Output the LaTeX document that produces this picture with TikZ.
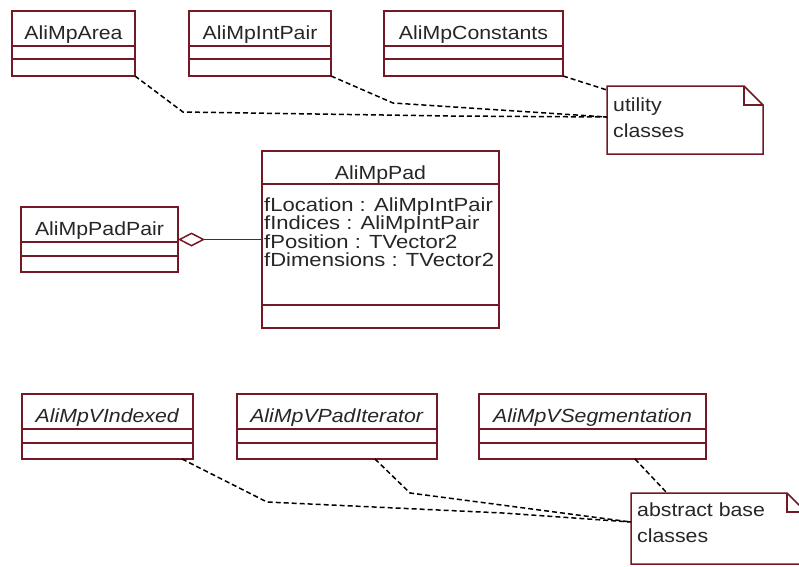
\documentclass[tikz,border=0pt]{standalone}
\usepackage{fontspec}
\setmainfont[FakeStretch=1.12]{Liberation Sans}
\usetikzlibrary{arrows.meta,calc}
\definecolor{umlred}{RGB}{115,24,36}
\newcommand\umlcls[8]{%
  \node[box, minimum width=#4pt, minimum height=#5pt, anchor=north west] (#1) at (#2,#3) {};
  \node[lbl] (#1-name) at ($(#1.north)+(0,28)$) {#6};
  \draw[sep] ($(#1.north west)+(0,#7)$) -- ($(#1.north east)+(0,#7)$);
  \draw[sep] ($(#1.north west)+(0,#8)$) -- ($(#1.north east)+(0,#8)$);
}
\begin{document}
\begin{tikzpicture}[x=1pt,y=-1pt,
  box/.style={draw=umlred, line width=1.5pt, fill=white, inner sep=0pt, outer sep=0pt},
  sep/.style={draw=umlred, line width=1.5pt},
  lbl/.style={inner sep=0pt, font=\fontsize{19}{19}\selectfont, anchor=base, text=black!85},
  attr/.style={lbl, anchor=base west, font=\fontsize{19}{19}\selectfont\addfontfeatures{FakeStretch=1.16}},
  notebox/.style={draw=umlred, line width=1.5pt, fill=white},
  dep/.style={draw=black, line width=1.5pt, dash pattern=on 5pt off 3pt},
  assoc/.style={draw=umlred, line width=1.5pt}]
\useasboundingbox (0,0) rectangle (799,566);
\clip (0,0) rectangle (799,566);
\fill[white] (0,0) rectangle (799,566);

% top row
\umlcls{area}{12}{11}{123}{65}{AliMpArea}{35}{48}
\umlcls{intpair}{189}{11}{142}{65}{AliMpIntPair}{35}{48}
\umlcls{constants}{384}{11}{179}{65}{AliMpConstants}{35}{48}

% utility note
\node[inner sep=0pt, outer sep=0pt, minimum width=156pt, minimum height=68pt, anchor=north west] (util) at (607,86) {};
\draw[notebox] (util.north west) -- ($(util.north east)+(-19,0)$) -- ($(util.north east)+(0,19)$) -- (util.south east) -- (util.south west) -- cycle;
\draw[notebox, fill=none] ($(util.north east)+(-19,0)$) -- ($(util.north east)+(-19,19)$) -- ($(util.north east)+(0,19)$);
\node[lbl, anchor=base west] (util-t1) at (613,111) {utility};
\node[lbl, anchor=base west] (util-t2) at (613,137) {classes};

\coordinate (uin) at ($(util.north west)+(0,31)$);
\coordinate (a1) at (183,112);
\coordinate (a2) at (450,116);
\coordinate (i1) at (393,103);
\draw[dep] (area.south east) -- (a1) -- (a2) -- (uin);
\draw[dep] (intpair.south east) -- (i1) -- (uin);
\draw[dep] (constants.south east) -- ($(util.north west)+(0,4)$);

% middle
\umlcls{pad}{262}{151}{237}{177}{AliMpPad}{33}{154}
\node[attr] (pad-a1) at (264,211.5) {fLocation : AliMpIntPair};
\node[attr] (pad-a2) at (264,229.8) {fIndices : AliMpIntPair};
\node[attr] (pad-a3) at (264,248.1) {fPosition : TVector2};
\node[attr] (pad-a4) at (264,266.4) {fDimensions : TVector2};

\umlcls{padpair}{21}{207}{157}{65}{AliMpPadPair}{35}{49}
\draw[assoc, {Diamond[open, length=27pt, width=14pt, line width=1.5pt]}-] (padpair.east) -- (pad.west);

% bottom row
\umlcls{vindexed}{22}{394}{171}{65}{\textit{AliMpVIndexed}}{35}{49}
\umlcls{vpaditer}{237}{394}{200}{65}{\textit{AliMpVPadIterator}}{35}{49}
\umlcls{vseg}{479}{394}{227}{65}{\textit{AliMpVSegmentation}}{35}{49}

% abstract note
\node[inner sep=0pt, outer sep=0pt, minimum width=175pt, minimum height=71pt, anchor=north west] (abs) at (631,493) {};
\draw[notebox] (abs.north west) -- ($(abs.north east)+(-19,0)$) -- ($(abs.north east)+(0,19)$) -- (abs.south east) -- (abs.south west) -- cycle;
\draw[notebox, fill=none] ($(abs.north east)+(-19,0)$) -- ($(abs.north east)+(-19,19)$) -- ($(abs.north east)+(0,19)$);
\node[lbl, anchor=base west] (abs-t1) at (637,516) {abstract base};
\node[lbl, anchor=base west] (abs-t2) at (637,542) {classes};

\coordinate (ain) at ($(abs.north west)+(0,29)$);
\coordinate (b1) at (267,502);
\coordinate (b2) at (503,513);
\coordinate (c1) at (410,493);
\draw[dep] ($(vindexed.south east)+(-11,0)$) -- (b1) -- (b2) -- (ain);
\draw[dep] ($(vpaditer.south)+(38,0)$) -- (c1) -- (ain);
\draw[dep] ($(vseg.south)+(42.5,0)$) -- ($(abs.north west)+(36,0)$);
\end{tikzpicture}
\end{document}
